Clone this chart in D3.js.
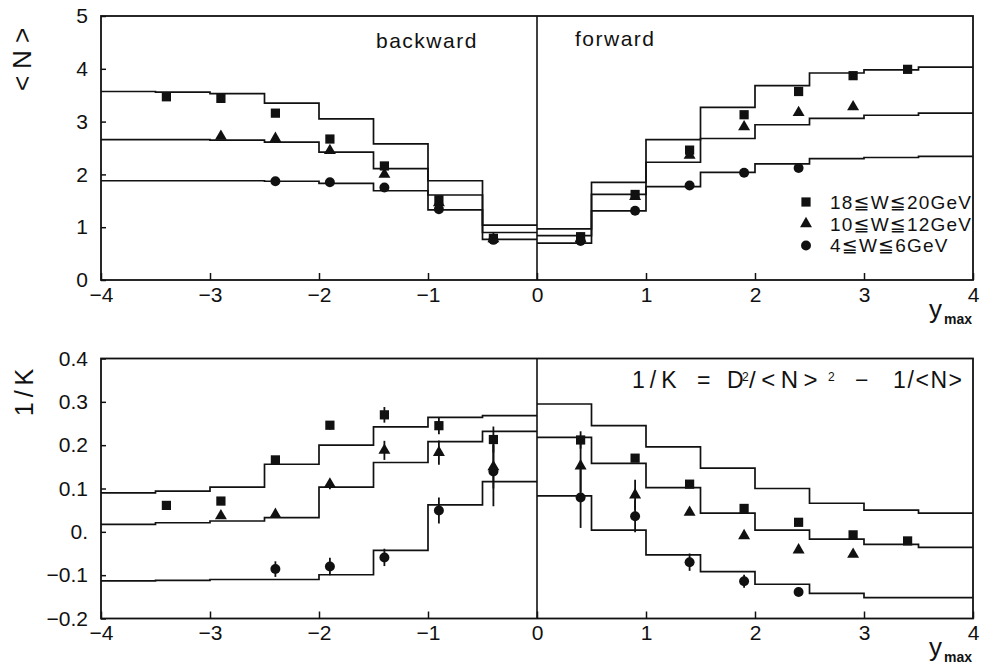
<!DOCTYPE html>
<html>
<head>
<meta charset="utf-8">
<script src="https://cdn.jsdelivr.net/npm/d3@7"></script>
<style>
  body { margin: 0; background: #fff; }
  svg { display: block; }
  text { font-family: "Liberation Sans", "DejaVu Sans", Arial, sans-serif; fill: #111; }
</style>
</head>
<body>
<svg id="chart" width="990" height="667"></svg>
<script>
// ---- data ----
const binEdges = [-4, -3.5, -3, -2.5, -2, -1.5, -1, -0.5, 0, 0.5, 1, 1.5, 2, 2.5, 3, 3.5, 4];

// <N> model histograms (16 bins each, backward then forward)
const histN_sq  = [3.57, 3.56, 3.53, 3.35, 3.05, 2.58, 1.88, 1.04, 0.97, 1.85, 2.66, 3.27, 3.68, 3.92, 3.98, 4.03];
const histN_tri = [2.66, 2.66, 2.65, 2.61, 2.42, 2.11, 1.61, 0.90, 0.84, 1.62, 2.23, 2.68, 2.94, 3.06, 3.12, 3.16];
const histN_cir = [1.88, 1.88, 1.88, 1.87, 1.83, 1.69, 1.33, 0.77, 0.70, 1.31, 1.77, 2.04, 2.20, 2.30, 2.32, 2.34];

// 1/K model histograms
const histK_sq  = [0.090, 0.094, 0.103, 0.156, 0.200, 0.242, 0.264, 0.268, 0.295, 0.245, 0.196, 0.147, 0.100, 0.066, 0.050, 0.043];
const histK_tri = [0.017, 0.021, 0.025, 0.033, 0.103, 0.160, 0.208, 0.232, 0.218, 0.158, 0.102, 0.043, 0.004, -0.017, -0.029, -0.036];
const histK_cir = [-0.113, -0.112, -0.110, -0.110, -0.099, -0.043, 0.062, 0.116, 0.083, 0.004, -0.053, -0.092, -0.121, -0.142, -0.152, -0.152];

// y_max values of the measured points
const xSq  = [-3.4, -2.9, -2.4, -1.9, -1.4, -0.9, -0.4, 0.4, 0.9, 1.4, 1.9, 2.4, 2.9, 3.4];
const xTri = [-2.9, -2.4, -1.9, -1.4, -0.9, -0.4, 0.4, 0.9, 1.4, 1.9, 2.4, 2.9];
const xCir = [-2.4, -1.9, -1.4, -0.9, -0.4, 0.4, 0.9, 1.4, 1.9, 2.4];

// measured <N>
const nSq  = [3.47, 3.44, 3.16, 2.67, 2.16, 1.52, 0.79, 0.82, 1.62, 2.46, 3.13, 3.57, 3.87, 3.99];
const nTri = [2.72, 2.68, 2.45, 2.00, 1.46, 0.78, 0.78, 1.58, 2.36, 2.90, 3.17, 3.28];
const nCir = [1.87, 1.85, 1.75, 1.34, 0.76, 0.74, 1.31, 1.79, 2.03, 2.12];

// measured 1/K and errors
const kSq     = [0.061, 0.071, 0.166, 0.246, 0.270, 0.245, 0.213, 0.212, 0.170, 0.110, 0.054, 0.022, -0.007, -0.021];
const kSqErr  = [0.004, 0.004, 0.006, 0.010, 0.018, 0.020, 0.030, 0.020, 0.005, 0.005, 0.005, 0.004, 0.004, 0.004];
const kTri    = [0.037, 0.040, 0.110, 0.188, 0.183, 0.150, 0.152, 0.085, 0.045, -0.009, -0.042, -0.052];
const kTriErr = [0.005, 0.006, 0.012, 0.022, 0.028, 0.050, 0.060, 0.035, 0.004, 0.004, 0.004, 0.004];
const kCir    = [-0.086, -0.080, -0.059, 0.049, 0.139, 0.079, 0.036, -0.070, -0.114, -0.139];
const kCirErr = [0.018, 0.020, 0.020, 0.030, 0.080, 0.070, 0.037, 0.020, 0.015, 0.008];

// tick labels
const xTicks = [-4, -3, -2, -1, 0, 1, 2, 3, 4];
const xTickLabels = ['\u22124', '\u22123', '\u22122', '\u22121', '0', '1', '2', '3', '4'];
const nTicks = [0, 1, 2, 3, 4, 5];
const nTickLabels = ['0', '1', '2', '3', '4', '5'];
const kTicks = [-0.2, -0.1, 0, 0.1, 0.2, 0.3, 0.4];
const kTickLabels = ['\u22120.2', '\u22120.1', '0.', '0.1', '0.2', '0.3', '0.4'];

const legendLabels = ['18\u2266W\u226620GeV', '10\u2266W\u226612GeV', '4\u2266W\u22666GeV'];

// ---- layout ----
const svg = d3.select('#chart');
const x = d3.scaleLinear().domain([-4, 4]).range([101, 973]);
const yN = d3.scaleLinear().domain([0, 5]).range([280, 16]);
const yK = d3.scaleLinear().domain([-0.2, 0.4]).range([618.5, 358.5]);

const symbols = {
  sq: d3.symbol().type(d3.symbolSquare).size(85)(),
  tri: d3.symbol().type(d3.symbolTriangle).size(62)(),
  cir: d3.symbol().type(d3.symbolCircle).size(78)(),
};

function drawPanel(y, ticks, tickLabels) {
  const g = svg.append('g');

  // frame
  g.append('rect')
    .attr('x', x.range()[0]).attr('y', y.range()[1])
    .attr('width', x.range()[1] - x.range()[0])
    .attr('height', y.range()[0] - y.range()[1])
    .attr('fill', 'none').attr('stroke', '#111').attr('stroke-width', 1.8);

  // x = 0 divider
  g.append('line')
    .attr('x1', x(0)).attr('x2', x(0))
    .attr('y1', y.range()[0]).attr('y2', y.range()[1])
    .attr('stroke', '#111').attr('stroke-width', 1.6);

  const xAxis = d3.axisBottom(x)
    .tickValues(xTicks)
    .tickFormat((d, i) => xTickLabels[i])
    .tickSize(-7).tickSizeOuter(0).tickPadding(7);
  const gx = g.append('g')
    .attr('transform', `translate(0,${y.range()[0]})`)
    .call(xAxis);

  const yAxis = d3.axisLeft(y)
    .tickValues(ticks)
    .tickFormat((d, i) => tickLabels[i])
    .tickSize(-5).tickSizeOuter(0).tickPadding(13);
  const gy = g.append('g')
    .attr('transform', `translate(${x.range()[0]},0)`)
    .call(yAxis);

  [gx, gy].forEach(a => {
    a.select('.domain').remove();
    a.selectAll('line').attr('stroke', '#111').attr('stroke-width', 1.5);
    a.selectAll('text').attr('font-size', 21).attr('fill', '#111')
      .style('font-family', '"Liberation Sans", "DejaVu Sans", Arial, sans-serif');
  });
  return g;
}

function drawHist(g, y, values) {
  const line = d3.line()
    .x(d => x(d[0])).y(d => y(d[1]))
    .curve(d3.curveStepAfter);
  // backward half and forward half drawn separately
  [[0, 8], [8, 16]].forEach(([a, b]) => {
    const pts = [];
    for (let i = a; i < b; i++) pts.push([binEdges[i], values[i]]);
    pts.push([binEdges[b], values[b - 1]]);
    g.append('path').attr('d', line(pts))
      .attr('fill', 'none').attr('stroke', '#111').attr('stroke-width', 1.7);
  });
}

function drawPoints(g, y, xs, vals, sym, errs) {
  if (errs) {
    g.selectAll(null).data(xs).enter().append('line')
      .attr('x1', d => x(d)).attr('x2', d => x(d))
      .attr('y1', (d, i) => y(vals[i] - errs[i]))
      .attr('y2', (d, i) => y(vals[i] + errs[i]))
      .attr('stroke', '#111').attr('stroke-width', 1.8);
  }
  g.selectAll(null).data(xs).enter().append('path')
    .attr('d', symbols[sym])
    .attr('transform', (d, i) => `translate(${x(d)},${y(vals[i])})`)
    .attr('fill', '#111');
}

// ---- top panel: <N> ----
const nPanel = drawPanel(yN, nTicks, nTickLabels);
drawHist(nPanel, yN, histN_sq);
drawHist(nPanel, yN, histN_tri);
drawHist(nPanel, yN, histN_cir);
drawPoints(nPanel, yN, xSq, nSq, 'sq');
drawPoints(nPanel, yN, xTri, nTri, 'tri');
drawPoints(nPanel, yN, xCir, nCir, 'cir');

// ---- bottom panel: 1/K ----
const kPanel = drawPanel(yK, kTicks, kTickLabels);
drawHist(kPanel, yK, histK_sq);
drawHist(kPanel, yK, histK_tri);
drawHist(kPanel, yK, histK_cir);
drawPoints(kPanel, yK, xSq, kSq, 'sq', kSqErr);
drawPoints(kPanel, yK, xTri, kTri, 'tri', kTriErr);
drawPoints(kPanel, yK, xCir, kCir, 'cir', kCirErr);

// ---- texts ----
svg.append('text').text('backward')
  .attr('x', 376).attr('y', 48).attr('font-size', 21).attr('letter-spacing', 1.5);
svg.append('text').text('forward')
  .attr('x', 575).attr('y', 46).attr('font-size', 21).attr('letter-spacing', 1.5);

// legend
const legSyms = ['sq', 'tri', 'cir'];
legendLabels.forEach((lbl, i) => {
  const yy = 202 + i * 21.7;
  svg.append('path').attr('d', symbols[legSyms[i]])
    .attr('transform', `translate(806,${yy})`).attr('fill', '#111');
  svg.append('text').text(lbl)
    .attr('x', 830).attr('y', yy + 7).attr('font-size', 19).attr('letter-spacing', 1.2);
});

// y axis titles
svg.append('text').text('<N>')
  .attr('transform', 'translate(31,56) rotate(-90)')
  .attr('text-anchor', 'middle').attr('font-size', 26).attr('letter-spacing', 7);
svg.append('text').text('1/K')
  .attr('transform', 'translate(33,390) rotate(-90)')
  .attr('text-anchor', 'middle').attr('font-size', 25).attr('letter-spacing', 5);

// y_max labels
[318, 656].forEach(yy => {
  const t = svg.append('text').attr('x', 929).attr('y', yy).attr('font-size', 26);
  t.append('tspan').text('y');
  t.append('tspan').text('max').attr('font-size', 14).attr('font-weight', 'bold')
    .attr('dx', 2).attr('dy', 6);
});

// formula: 1/K = D^2/<N>^2 - 1/<N>
const fy = 388;
const formula = [
  { t: '1/K', x: 632, size: 23, ls: 5 },
  { t: '=', x: 697, size: 23, ls: 0 },
  { t: 'D', x: 727, size: 23, ls: 0 },
  { t: '2', x: 742, size: 12, ls: 0, sup: true },
  { t: '/<N>', x: 749, size: 24, ls: 5.5 },
  { t: '2', x: 828, size: 12, ls: 0, sup: true },
  { t: '\u2212', x: 855, size: 23, ls: 0 },
  { t: '1/<N>', x: 893, size: 23, ls: 1.6 },
];
formula.forEach(p => {
  svg.append('text').text(p.t)
    .attr('x', p.x).attr('y', p.sup ? fy - 7 : fy)
    .attr('font-size', p.size).attr('letter-spacing', p.ls);
});
</script>
</body>
</html>
